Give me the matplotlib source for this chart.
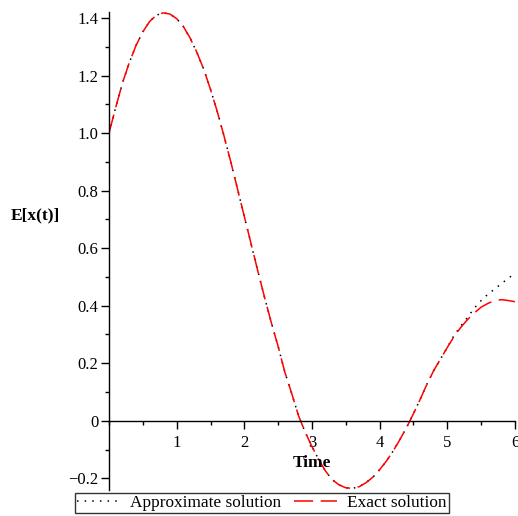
import matplotlib
matplotlib.use("Agg")
import matplotlib.pyplot as plt
from matplotlib.ticker import MultipleLocator, FuncFormatter

t_exact = [0.0, 0.1, 0.2, 0.3, 0.4, 0.5, 0.6, 0.7, 0.8, 0.9,
           1.0, 1.1, 1.2, 1.3, 1.4, 1.5, 1.6, 1.7, 1.8, 1.9,
           2.0, 2.1, 2.2, 2.3, 2.4, 2.5, 2.6, 2.7, 2.8, 2.9,
           3.0, 3.1, 3.2, 3.3, 3.4, 3.5, 3.6, 3.7, 3.8, 3.9,
           4.0, 4.1, 4.2, 4.3, 4.4, 4.5, 4.6, 4.7, 4.8, 4.9,
           5.0, 5.1, 5.2, 5.3, 5.4, 5.5, 5.6, 5.7, 5.8, 5.9, 6.0]
y_exact = [1.000, 1.090, 1.175, 1.245, 1.305, 1.352, 1.388, 1.410, 1.418, 1.414,
           1.398, 1.370, 1.330, 1.280, 1.222, 1.152, 1.075, 0.990, 0.900, 0.805,
           0.710, 0.615, 0.520, 0.428, 0.340, 0.258, 0.168, 0.095, 0.018, -0.040,
           -0.090, -0.135, -0.175, -0.205, -0.223, -0.233, -0.235, -0.229, -0.215, -0.196,
           -0.170, -0.140, -0.105, -0.065, -0.022, 0.025, 0.075, 0.128, 0.175, 0.215,
           0.255, 0.293, 0.325, 0.352, 0.375, 0.395, 0.408, 0.418, 0.421, 0.418, 0.414]

t_approx = t_exact
y_approx = y_exact[:51] + [0.297, 0.330, 0.360, 0.392, 0.418, 0.440, 0.458, 0.477, 0.495, 0.513]

x_ticks = [1, 2, 3, 4, 5, 6]
y_ticks = [-0.2, 0, 0.2, 0.4, 0.6, 0.8, 1.0, 1.2, 1.4]

plt.rcParams['font.family'] = ['Liberation Serif', 'DejaVu Serif']

W, H = 518, 516
fig = plt.figure(figsize=(W / 100, H / 100), dpi=100)
x0, x1 = 109, 515
py_top, py_bot = 12.3, 489.8
ax = fig.add_axes([x0 / W, 1 - py_bot / H, (x1 - x0) / W, (py_bot - py_top) / H])

la, = ax.plot(t_approx, y_approx, color='black', linestyle=(0, (1, 4)), linewidth=1.1,
              label='Approximate solution')
le, = ax.plot(t_exact, y_exact, color='red', linestyle=(0, (12.5, 5)), linewidth=1.1,
              label='Exact solution')

ax.set_xlim(0, 6)
ax.set_ylim(-0.24, 1.42)
for s in ['top', 'right']:
    ax.spines[s].set_visible(False)
ax.spines['bottom'].set_position(('data', 0))
ax.spines['left'].set_position(('data', 0))
ax.spines['bottom'].set_linewidth(1.0)
ax.spines['left'].set_linewidth(1.0)

ax.set_xticks(x_ticks)
ax.set_yticks(y_ticks)
ax.xaxis.set_minor_locator(MultipleLocator(0.5))
ax.yaxis.set_minor_locator(MultipleLocator(0.1))


def yfmt(v, pos):
    if abs(v) < 1e-9:
        return '0'
    return ('%.1f' % v).replace('-', '\u2212')


ax.yaxis.set_major_formatter(FuncFormatter(yfmt))
ax.tick_params(axis='both', which='major', direction='out', length=6, width=1,
               labelsize=12)
ax.tick_params(axis='both', which='minor', direction='out', length=3, width=1)
ax.tick_params(axis='y', which='major', pad=1.5)
ax.tick_params(axis='x', which='major', pad=4)

ax.text(3, -0.148, 'Time', ha='center', va='center', fontsize=12.5, fontweight='bold')
fig.text(11 / W, 1 - 215 / H, 'E[x(t)]', ha='left', va='center', fontsize=12.5,
         fontweight='bold')

leg = fig.legend(handles=[la, le], loc='lower left', ncol=2,
                 bbox_to_anchor=(75 / W, 1 - 513 / H),
                 fontsize=12.4, frameon=True, fancybox=False,
                 borderpad=0.12, borderaxespad=0, handlelength=2.5,
                 handletextpad=0.6, columnspacing=0.7)
leg.get_frame().set_edgecolor('black')
leg.get_frame().set_linewidth(1.0)

fig.savefig('out.png', dpi=100)
